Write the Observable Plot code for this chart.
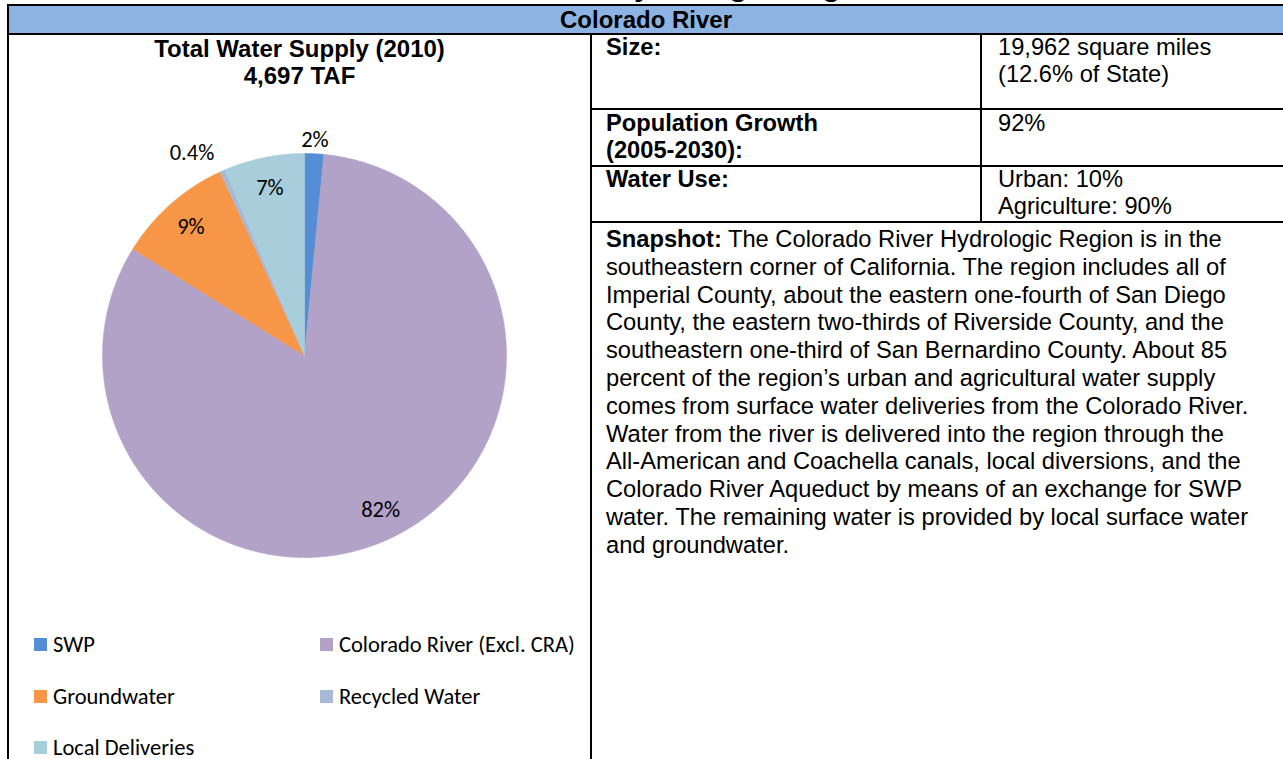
<!DOCTYPE html>
<html>
<head>
<meta charset="utf-8">
<script src="https://cdn.jsdelivr.net/npm/d3@7"></script>
<script src="https://cdn.jsdelivr.net/npm/@observablehq/plot@0.6"></script>
<style>
  html, body { margin: 0; padding: 0; background: #fff; overflow: hidden; }
  body { width: 1283px; height: 759px; position: relative; font-family: "Liberation Sans", Arial, sans-serif; color: #000; }
  .abs { position: absolute; }
  .line { position: absolute; background: #000; }
  .t20 { font-size: 23.7px; line-height: 27.8px; white-space: nowrap; }
  .b { font-weight: bold; }
  .leg { position: absolute; font-family: Carlito, Lato, "Open Sans", sans-serif; font-size: 22.5px; white-space: nowrap; display: flex; align-items: center; }
  .sw { width: 13px; height: 13px; margin-right: 6px; display: inline-block; }
</style>
</head>
<body>
<div id="page"></div>
<script>
// ---- data ----
const categories = ["SWP", "Colorado River (Excl. CRA)", "Groundwater", "Recycled Water", "Local Deliveries"];
const supplyTAF = [72, 3866, 437, 19, 303];
const pctLabels = ["2%", "82%", "9%", "0.4%", "7%"];
const sliceColors = ["#558ED5", "#B3A2C7", "#F79646", "#A9B8D6", "#A8CEDB"];

const pageTitle = "Colorado River Hydrologic Region";
const headerText = "Colorado River";
const chartTitle = ["Total Water Supply (2010)", "4,697 TAF"];
const factLabels = [["Size:"], ["Population Growth", "(2005-2030):"], ["Water Use:"]];
const factValues = [["19,962 square miles", "(12.6% of State)"], ["92%"], ["Urban: 10%", "Agriculture: 90%"]];
const snapshotLines = [
  "The Colorado River Hydrologic Region is in the",
  "southeastern corner of California. The region includes all of",
  "Imperial County, about the eastern one-fourth of San Diego",
  "County, the eastern two-thirds of Riverside County, and the",
  "southeastern one-third of San Bernardino County. About 85",
  "percent of the region\u2019s urban and agricultural water supply",
  "comes from surface water deliveries from the Colorado River.",
  "Water from the river is delivered into the region through the",
  "All-American and Coachella canals, local diversions, and the",
  "Colorado River Aqueduct by means of an exchange for SWP",
  "water. The remaining water is provided by local surface water",
  "and groundwater."
];

// ---- layout helpers ----
function box(cls, css, html) {
  const d = document.createElement("div");
  d.className = cls;
  Object.assign(d.style, css);
  if (html !== undefined) d.innerHTML = html;
  document.body.appendChild(d);
  return d;
}

// clipped page title (only descenders visible above the table)
box("abs b", {left: "0px", width: "1268px", top: "-31px", fontSize: "31px", lineHeight: "31px", textAlign: "center", whiteSpace: "nowrap"}, pageTitle);

// header band
box("abs", {left: "9px", top: "6px", width: "1274px", height: "27px", background: "#8DB3E2"});
box("abs b", {left: "9px", width: "1274px", top: "6px", fontSize: "24px", lineHeight: "28px", textAlign: "center", whiteSpace: "nowrap"}, headerText);

// grid lines
box("line", {left: "7px", top: "4px", width: "1276px", height: "2px"});
box("line", {left: "7px", top: "33px", width: "1276px", height: "2px"});
box("line", {left: "7px", top: "4px", width: "2px", height: "755px"});
box("line", {left: "590px", top: "33px", width: "2px", height: "726px"});
box("line", {left: "980px", top: "35px", width: "2px", height: "187px"});
box("line", {left: "590px", top: "108px", width: "693px", height: "2px"});
box("line", {left: "590px", top: "165px", width: "693px", height: "2px"});
box("line", {left: "590px", top: "221px", width: "693px", height: "2px"});

// chart title
box("abs b", {left: "9px", width: "581px", top: "35px", textAlign: "center", fontSize: "24px", lineHeight: "27px", whiteSpace: "nowrap"}, chartTitle.join("<br>"));

// facts table
const rowTops = [34, 110, 166];
factLabels.forEach((lines, i) => {
  box("abs b t20", {left: "606px", top: rowTops[i] + "px", lineHeight: "27px"}, lines.join("<br>"));
});
factValues.forEach((lines, i) => {
  box("abs t20", {left: "998px", top: rowTops[i] + "px", lineHeight: "27px"}, lines.join("<br>"));
});

// snapshot
snapshotLines.forEach((s, i) => {
  const html = i === 0 ? "<b>Snapshot:</b> " + s : s;
  box("abs t20", {left: "606px", top: (226 + i * 27.8) + "px"}, html);
});

// ---- pie via Plot ----
const rows = categories.map((name, i) => ({name, value: supplyTAF[i], label: pctLabels[i]}));
const arcs = d3.pie().sort(null).value(d => d.value)(rows);
const pts = [];
arcs.forEach(a => {
  const n = Math.max(2, Math.ceil((a.endAngle - a.startAngle) / 0.005));
  pts.push({name: a.data.name, x: 0, y: 0});
  for (let k = 0; k <= n; k++) {
    const t = a.startAngle + (a.endAngle - a.startAngle) * k / n;
    pts.push({name: a.data.name, x: Math.sin(t), y: Math.cos(t)});
  }
  pts.push({name: a.data.name, x: 0, y: 0});
});
const total = d3.sum(supplyTAF);
const labs = arcs.map(a => {
  const m = (a.startAngle + a.endAngle) / 2;
  const outside = a.data.value / total < 0.03;
  const left = Math.sin(m) < -0.05;
  const rr = outside ? (left ? 1.1 : 1.07) : 0.85;
  return {x: rr * Math.sin(m), y: rr * Math.cos(m), text: a.data.label, outside, left};
});

const W = 580, H = 500, cx = 295, cy = 260, R = 202;
const labelFont = "Carlito, Lato, 'Open Sans', sans-serif";
const chart = Plot.plot({
  width: W, height: H, margin: 0,
  style: {background: "transparent", overflow: "visible"},
  x: {domain: [-1, 1], range: [cx - R, cx + R], axis: null},
  y: {domain: [-1, 1], range: [cy + R, cy - R], axis: null},
  color: {domain: categories, range: sliceColors},
  marks: [
    Plot.line(pts, {x: "x", y: "y", z: "name", fill: "name", stroke: "name", strokeWidth: 0.6, curve: "linear"}),
    Plot.text(labs.filter(d => !(d.outside && d.left)), {x: "x", y: "y", text: "text", fontSize: 22.5, fill: "#000", fontFamily: labelFont, textAnchor: "middle"}),
    Plot.text(labs.filter(d => d.outside && d.left), {x: "x", y: "y", text: "text", fontSize: 22.5, fill: "#000", fontFamily: labelFont, textAnchor: "end"})
  ]
});
const holder = box("abs", {left: "9px", top: "95px", width: W + "px", height: H + "px"});
holder.appendChild(chart);

// legend
const legPos = [[34, 644], [320, 644], [34, 696], [320, 696], [34, 747]];
categories.forEach((c, i) => {
  const d = box("leg", {left: legPos[i][0] + "px", top: (legPos[i][1] - 13) + "px", height: "26px"});
  d.innerHTML = `<span class="sw" style="background:${sliceColors[i]}"></span><span>${c}</span>`;
});
</script>
</body>
</html>
